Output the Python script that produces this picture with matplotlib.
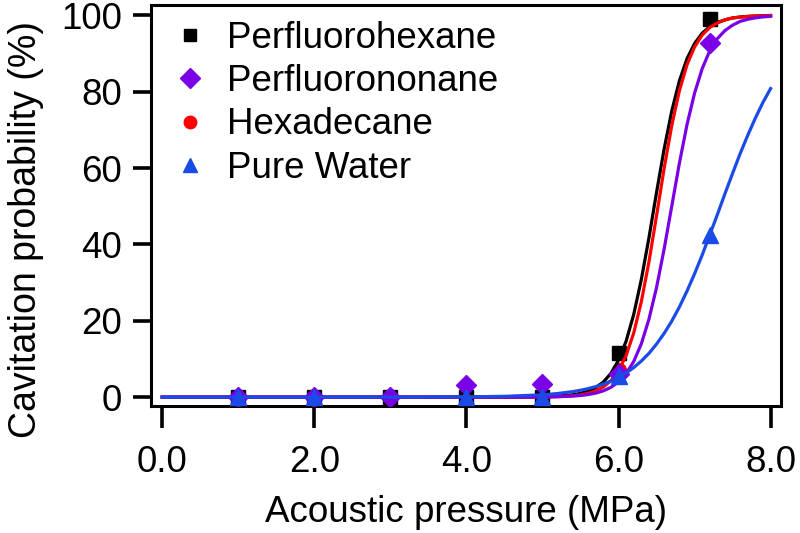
import matplotlib
matplotlib.use("Agg")
import matplotlib.pyplot as plt
from matplotlib.lines import Line2D

plt.rcParams["font.family"] = ["Liberation Sans", "DejaVu Sans"]

# measured points
pressure = [1, 2, 3, 4, 5, 6, 7.2]
pfh_prob = [0, 0, 0, 0, 0, 11.5, 99]
pfn_prob = [0, 0, 0, 3.1, 3.4, 6, 92.7]
hexd_prob = [0, 0, 0, 0, 0, 7, 99]
water_pressure = [1, 2, 4, 5, 6, 7.2]
water_prob = [0, 0, 0, 0, 5.5, 42.4]

# fitted curves
fit_x = [0, 1, 2, 3, 4, 4.5, 5.0, 5.2, 5.4, 5.5, 5.6, 5.7, 5.8, 5.9, 6.0, 6.1, 6.2,
         6.3, 6.4, 6.5, 6.6, 6.7, 6.8, 6.9, 7.0, 7.1, 7.2, 7.3, 7.4, 7.5, 7.6,
         7.7, 7.8, 7.9, 8.0]
pfh_fit = [0, 0, 0, 0, 0, 0.01, 0.09, 0.24, 0.61, 0.98, 1.57, 2.5, 3.95, 6.21, 9.64,
           14.66, 21.66, 30.8, 41.7, 53.6, 65.0, 74.9, 82.8, 88.6, 92.6, 95.3, 97.0,
           98.1, 98.8, 99.3, 99.55, 99.7, 99.8, 99.88, 99.93]
hexd_fit = [0, 0, 0, 0, 0, 0.01, 0.05, 0.14, 0.37, 0.61, 0.99, 1.63, 2.66, 4.31, 6.91,
            10.9, 16.8, 25.0, 35.4, 47.5, 59.9, 71.1, 80.2, 87.0, 91.7, 94.8, 96.8,
            98.0, 98.8, 99.3, 99.5, 99.7, 99.8, 99.88, 99.94]
pfn_fit = [0, 0, 0, 0, 0, 0.01, 0.04, 0.11, 0.27, 0.43, 0.67, 1.05, 1.64, 2.57, 3.99,
           6.14, 9.34, 13.97, 20.4, 28.7, 38.8, 50.0, 61.2, 71.3, 79.6, 86.0, 90.7,
           93.9, 96.0, 97.4, 98.4, 98.95, 99.33, 99.57, 99.73]
water_fit = [0, 0, 0, 0.01, 0.07, 0.21, 0.61, 0.95, 1.45, 1.8, 2.23, 2.75, 3.4, 4.19,
             5.15, 6.32, 7.74, 9.45, 11.47, 13.9, 16.7, 19.9, 23.6, 27.75, 32.3, 37.2,
             42.5, 47.8, 53.3, 58.6, 63.8, 68.6, 73.1, 77.2, 80.8]

labels = ["Perfluorohexane", "Perfluorononane", "Hexadecane", "Pure Water"]
colors = ["#000000", "#7A00E6", "#FF0000", "#1A4BE6"]
markers = ["s", "D", "o", "^"]

fs = 26.5

fig = plt.figure(figsize=(8, 5.33), dpi=100)
ax = fig.add_axes([0.189, 0.238, 0.787, 0.752])

lw = 2.3
# red markers sit under the black squares; curves stack black, red, purple, blue
ax.plot(pressure, hexd_prob, ls="none", marker="o", ms=10, color=colors[2], zorder=2.5)
ax.plot(pressure, pfh_prob, ls="none", marker="s", ms=10, color=colors[0], zorder=3)
ax.plot(fit_x, pfh_fit, color=colors[0], lw=lw, zorder=3)
ax.plot(fit_x, hexd_fit, color=colors[2], lw=lw, zorder=4)
ax.plot(pressure, pfn_prob, ls="none", marker="D", ms=10, color=colors[1], zorder=5)
ax.plot(fit_x, pfn_fit, color=colors[1], lw=lw, zorder=5)
ax.plot(water_pressure, water_prob, ls="none", marker="^", ms=12, color=colors[3], zorder=6)
ax.plot(fit_x, water_fit, color=colors[3], lw=lw, zorder=6)

ax.set_xlim(-0.145, 8.134)
ax.set_ylim(-2.36, 102.6)
ax.set_xticks([0, 2, 4, 6, 8])
ax.set_xticklabels(["0.0", "2.0", "4.0", "6.0", "8.0"])
ax.set_yticks([0, 20, 40, 60, 80, 100])
ax.tick_params(axis="x", length=16, width=2.6, labelsize=fs, pad=12)
ax.tick_params(axis="y", length=13, width=2.6, labelsize=fs, pad=8)
for side in ["left", "right", "top", "bottom"]:
    ax.spines[side].set_linewidth(2.2)

ax.set_xlabel("Acoustic pressure (MPa)", fontsize=fs, labelpad=11)
ax.set_ylabel("Cavitation probability (%)", fontsize=27)
ax.yaxis.set_label_coords(-0.17, 0.44)

handles = [
    Line2D([], [], ls="none", marker=m, color=c, ms=ms)
    for m, c, ms in zip(markers, colors, [9, 10, 9, 10])
]
ax.legend(handles, labels, loc="upper left", bbox_to_anchor=(0.038, 0.962),
          frameon=False, fontsize=fs, handlelength=0.8, handletextpad=0.6,
          labelspacing=0.23, borderpad=0, borderaxespad=0)

fig.savefig("out.png", dpi=100)
